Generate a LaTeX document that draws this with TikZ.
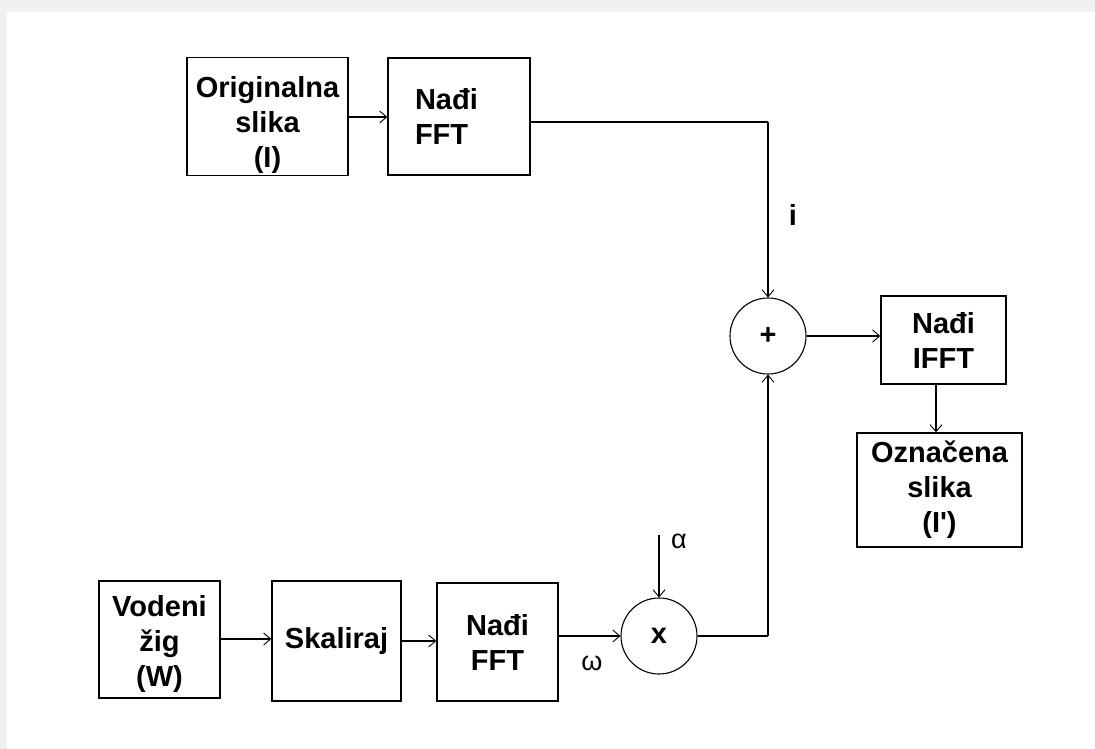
\documentclass[tikz,border=0pt]{standalone}
\usepackage{fontspec}
\setmainfont{Liberation Sans}
\usetikzlibrary{arrows.meta}
\definecolor{edgegrey}{HTML}{F0F0F0}
\tikzset{
  blk/.style={draw=black, line width=1.4pt, inner sep=0pt, font=\fontsize{29}{35}\selectfont\bfseries, align=center},
  sumnode/.style={draw=black, line width=1.1pt, circle, minimum size=76pt, inner sep=0pt, font=\fontsize{29}{35}\selectfont\bfseries},
  conn/.style={line width=1.1pt, draw=black},
  arr/.style={conn, -{Straight Barb[length=7pt,width=12pt,line width=0.9pt]}},
  lbl/.style={font=\fontsize{27}{30}\selectfont},
  blbl/.style={font=\fontsize{29}{30}\selectfont\bfseries}
}
\begin{document}
\begin{tikzpicture}[x=1pt,y=-1pt]
\useasboundingbox (0,0) rectangle (1095,749);
\fill[edgegrey] (0,0) rectangle (1095,749);
\fill[white] (7,12) rectangle (1095,749);
% top row
\node[blk, minimum width=161pt, minimum height=118pt] (orig) at (267.5,116.5) {\rule{0pt}{39pt}Originalna\\slika\\(I)};
\node[blk, minimum width=142pt, minimum height=117pt, text width=126pt, align=left] (fft1) at (459,116.5) {\hspace*{19pt}Nađi\\\hspace*{19pt}FFT};
% sum
\node[sumnode] (plus) at (768,336) {+};
\node[blk, minimum width=125pt, minimum height=88pt] (ifft) at (943.5,340) {Nađi\\IFFT};
\node[blk, minimum width=165pt, minimum height=114pt] (out) at (939.5,490) {Označena\\slika\\(I\textquotesingle)};
% bottom row
\node[blk, minimum width=121pt, minimum height=117pt] (wm) at (159.5,639.5) {\rule{0pt}{31pt}Vodeni\\žig\\(W)};
\node[blk, minimum width=129pt, minimum height=120pt] (sc) at (336.5,641) {Skaliraj};
\node[blk, minimum width=121pt, minimum height=118pt] (fft2) at (497.5,642) {Nađi\\FFT};
\node[sumnode] (mul) at (659,636) {x};
\coordinate (alpha) at (659,535);
\coordinate (c1) at (768,122);
\coordinate (c2) at (768,636);
% connectors
\draw[arr] (orig.east |- 0,117) -- (fft1.west |- 0,117);
\draw[conn] (fft1.east |- 0,122) -- (c1);
\draw[arr] (c1) -- (plus.north);
\draw[arr] (plus.east) -- (ifft.west |- plus.east);
\draw[arr] (ifft.south -| 936,0) -- (out.north -| 936,0);
\draw[arr] (wm.east |- 0,639) -- (sc.west |- 0,639);
\draw[arr] (sc.east |- 0,641) -- (fft2.west |- 0,641);
\draw[arr] (fft2.east |- mul.west) -- (mul.west);
\draw[arr] (alpha) -- (mul.north);
\draw[conn] (mul.east) -- (c2);
\draw[arr] (c2) -- (plus.south);
% labels
\node[blbl] (ilbl) at (793,215) {i};
\node[lbl] (albl) at (679,541) {α};
\node[lbl] (wlbl) at (592,663) {ω};
\end{tikzpicture}
\end{document}
